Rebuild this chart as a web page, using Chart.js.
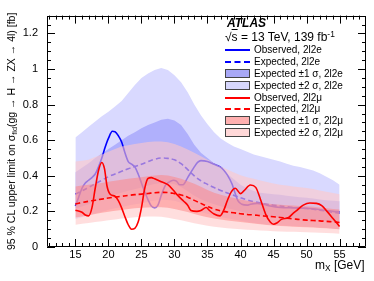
<!DOCTYPE html>
<html><head><meta charset="utf-8">
<script src="https://cdn.jsdelivr.net/npm/chart.js@4.4.1/dist/chart.umd.min.js"></script>
<style>
body{margin:0;background:#fff;}
#wrap{position:relative;width:374px;height:281px;font-family:"Liberation Sans",Arial,Helvetica,sans-serif;color:#000;overflow:hidden;}
canvas{position:absolute;left:0;top:0;}
.t{position:absolute;white-space:nowrap;line-height:1;}
.leg{position:absolute;left:254px;font-size:10px;white-space:nowrap;line-height:10px;}
.ln{position:absolute;left:225px;width:25px;height:0;}
.bx{position:absolute;left:225px;width:23px;height:7px;border:1px solid #444;}
sub{font-size:70%;vertical-align:-0.25em;}
sup{font-size:70%;vertical-align:0.45em;}
</style></head>
<body><div id="wrap"><canvas id="c" width="374" height="281"></canvas>
<div class="t" style="left:227px;top:17px;font-size:12px;font-weight:bold;font-style:italic;">ATLAS</div>
<div class="t" style="left:225px;top:30px;font-size:12px;">√<span style="text-decoration:overline">s</span> = 13 TeV, 139 fb<sup>-1</sup></div>
<div class="ln" style="top:49px;border-top:2px solid #0000ff;"></div>
<div class="leg" style="top:45px;">Observed, 2l2e</div>
<div class="ln" style="top:61px;border-top:2px dashed #0000ff;"></div>
<div class="leg" style="top:57px;">Expected, 2l2e</div>
<div class="bx" style="top:69px;background:#a8a8f6;"></div>
<div class="leg" style="top:69px;">Expected ±1 σ, 2l2e</div>
<div class="bx" style="top:81px;background:#d6d6fc;"></div>
<div class="leg" style="top:81px;">Expected ±2 σ, 2l2e</div>
<div class="ln" style="top:97px;border-top:2px solid #ff0000;"></div>
<div class="leg" style="top:93px;">Observed, 2l2μ</div>
<div class="ln" style="top:108px;border-top:2px dashed #ff0000;"></div>
<div class="leg" style="top:104px;">Expected, 2l2μ</div>
<div class="bx" style="top:116px;background:#ffb0b0;"></div>
<div class="leg" style="top:116px;">Expected ±1 σ, 2l2μ</div>
<div class="bx" style="top:128px;background:#ffd8d8;"></div>
<div class="leg" style="top:128px;">Expected ±2 σ, 2l2μ</div>
<div class="t" style="left:315px;top:259px;font-size:12px;">m<sub>X</sub> [GeV]</div>
<div class="t" id="ytitle" style="font-size:10.5px;left:6px;top:250px;transform-origin:0 0;transform:rotate(-90deg);">95 % CL upper limit on σ<sub>fid</sub>(gg → H → ZX → 4l) [fb]</div>
</div>
<script>
// ---- data ----
const mass = [15,16,17,18,19,20,21,22,23,24,25,26,27,28,29,30,31,32,33,34,35,36,37,38,39,40,41,42,43,44,45,46,47,48,49,50,51,52,53,54,55];
const eeExp   = [0.297,0.315,0.335,0.355,0.375,0.395,0.41,0.425,0.44,0.452,0.465,0.48,0.493,0.50,0.498,0.49,0.468,0.435,0.40,0.372,0.352,0.334,0.318,0.303,0.29,0.277,0.265,0.255,0.247,0.24,0.235,0.23,0.226,0.222,0.219,0.216,0.212,0.207,0.201,0.195,0.19];
const ee1Up   = [0.42,0.445,0.47,0.50,0.525,0.55,0.575,0.60,0.625,0.645,0.667,0.685,0.70,0.715,0.72,0.71,0.685,0.635,0.575,0.53,0.50,0.47,0.44,0.41,0.38,0.35,0.33,0.315,0.305,0.30,0.297,0.293,0.288,0.284,0.28,0.276,0.272,0.267,0.263,0.26,0.257];
const ee1Dn   = [0.215,0.228,0.24,0.255,0.27,0.284,0.295,0.305,0.316,0.325,0.334,0.345,0.354,0.36,0.358,0.352,0.337,0.313,0.288,0.268,0.253,0.24,0.229,0.218,0.209,0.2,0.191,0.184,0.178,0.173,0.169,0.166,0.163,0.16,0.158,0.156,0.153,0.149,0.145,0.141,0.137];
const ee2Up   = [0.615,0.645,0.675,0.705,0.735,0.76,0.79,0.82,0.865,0.91,0.95,0.975,0.995,1.005,0.995,0.965,0.925,0.87,0.80,0.74,0.69,0.645,0.61,0.585,0.565,0.55,0.535,0.52,0.51,0.50,0.49,0.48,0.468,0.457,0.45,0.44,0.43,0.415,0.395,0.375,0.35];
const ee2Dn   = [0.158,0.167,0.177,0.188,0.198,0.209,0.217,0.225,0.233,0.24,0.246,0.254,0.261,0.265,0.264,0.26,0.248,0.231,0.212,0.197,0.187,0.177,0.169,0.161,0.154,0.147,0.14,0.135,0.131,0.127,0.125,0.122,0.12,0.118,0.116,0.114,0.112,0.11,0.107,0.103,0.1];
const mmExp   = [0.242,0.25,0.257,0.263,0.269,0.275,0.28,0.285,0.29,0.294,0.297,0.301,0.305,0.307,0.306,0.30,0.292,0.28,0.262,0.245,0.228,0.213,0.203,0.197,0.192,0.187,0.183,0.18,0.176,0.173,0.17,0.166,0.162,0.158,0.154,0.151,0.149,0.147,0.144,0.141,0.138];
const mm1Up   = [0.34,0.345,0.35,0.355,0.36,0.366,0.372,0.378,0.383,0.388,0.392,0.397,0.402,0.405,0.402,0.393,0.383,0.37,0.355,0.338,0.32,0.305,0.293,0.284,0.275,0.267,0.26,0.254,0.248,0.244,0.24,0.237,0.235,0.233,0.231,0.229,0.226,0.222,0.218,0.214,0.21];
const mm1Dn   = [0.166,0.172,0.178,0.185,0.192,0.198,0.203,0.208,0.213,0.217,0.22,0.222,0.224,0.224,0.22,0.213,0.205,0.196,0.186,0.176,0.167,0.16,0.154,0.149,0.144,0.14,0.136,0.132,0.128,0.124,0.121,0.118,0.116,0.114,0.112,0.111,0.109,0.107,0.105,0.103,0.10];
const mm2Up   = [0.48,0.485,0.49,0.505,0.52,0.535,0.55,0.565,0.572,0.578,0.584,0.59,0.592,0.592,0.588,0.578,0.565,0.548,0.53,0.51,0.49,0.47,0.452,0.435,0.418,0.403,0.392,0.383,0.373,0.365,0.357,0.35,0.345,0.34,0.336,0.332,0.326,0.318,0.31,0.303,0.297];
const mm2Dn   = [0.125,0.13,0.135,0.14,0.145,0.15,0.155,0.16,0.163,0.167,0.17,0.172,0.172,0.17,0.165,0.158,0.15,0.142,0.134,0.126,0.12,0.114,0.11,0.106,0.103,0.10,0.097,0.095,0.093,0.091,0.089,0.087,0.086,0.085,0.084,0.083,0.082,0.08,0.078,0.077,0.075];

const eeObsMass = [15,15.5,16,16.5,17,17.5,18,18.5,19,19.5,20,20.6,21,21.5,22,22.5,23,23.5,24,24.5,25,25.5,26,26.5,27,27.5,28,28.6,29,29.8,30.3,30.8,31.3,32,32.5,33,33.5,34,35,36,36.9,37.5,38,38.7,39.2,39.6,40.2,41,41.5,42.5,43.5,44.5,46,48,50,51,52,53,54,55];
const eeObs     = [0.23,0.28,0.33,0.36,0.375,0.39,0.41,0.45,0.50,0.56,0.61,0.65,0.648,0.625,0.59,0.53,0.48,0.465,0.45,0.41,0.36,0.31,0.265,0.23,0.22,0.235,0.29,0.345,0.36,0.375,0.37,0.35,0.35,0.39,0.42,0.45,0.475,0.485,0.48,0.465,0.45,0.43,0.405,0.355,0.30,0.26,0.24,0.235,0.24,0.245,0.24,0.23,0.222,0.22,0.218,0.215,0.21,0.205,0.2,0.198];
const mmObsMass = [15,16,16.5,17,17.5,18,18.5,19,19.4,19.8,20.3,21,21.5,22,22.5,23,23.5,24,24.5,25,25.5,26,26.5,27,28,29,29.8,30.5,31.4,32,32.5,33.4,34,34.8,35.3,36,36.9,37.5,38,38.6,39.2,40,40.5,41.5,42.3,43,43.8,44.5,45,45.5,46.2,47.3,48,48.5,49.5,50.5,51.5,52.3,53.1,54,55];
const mmObs     = [0.207,0.195,0.18,0.175,0.22,0.33,0.43,0.475,0.44,0.34,0.295,0.285,0.26,0.22,0.17,0.125,0.10,0.105,0.14,0.22,0.33,0.385,0.39,0.383,0.367,0.35,0.32,0.29,0.257,0.235,0.205,0.2,0.205,0.222,0.205,0.185,0.175,0.21,0.26,0.31,0.33,0.30,0.315,0.348,0.335,0.27,0.185,0.14,0.128,0.135,0.155,0.166,0.19,0.205,0.235,0.247,0.245,0.232,0.2,0.16,0.115];

const xTicks = [15,20,25,30,35,40,45,50,55];
const yTicks = [0,0.2,0.4,0.6,0.8,1.0,1.2];
const yTickLabels = ['0','0.2','0.4','0.6','0.8','1','1.2'];

// ---- build ----
const pts = (xs, ys) => xs.map((x,i)=>({x:x, y:ys[i]}));
const band = (vals, color, fill, order) => ({data:pts(mass, vals), borderWidth:0, borderColor:'rgba(0,0,0,0)', backgroundColor:color, fill:fill, pointRadius:0, order:order, tension:0});
const line = (xs, ys, color, dash, order, smooth) => ({data:pts(xs, ys), borderColor:color, borderWidth:1.6, borderDash:dash, fill:false, pointRadius:0, order:order, cubicInterpolationMode: smooth?'monotone':'default', tension: smooth?0:0.4});

const datasets = [
  band(ee2Up, '#d9d9ff', '+1', 20),
  band(ee2Dn, 'rgba(0,0,0,0)', false, 19),
  band(ee1Up, '#b0b0fc', '+1', 18),
  band(ee1Dn, 'rgba(0,0,0,0)', false, 17),
  line(mass, eeExp, '#0000ff', [5,3], 16, false),
  line(eeObsMass, eeObs, '#0000ff', [], 15, true),
  band(mm2Up, 'rgba(255,200,200,0.6)', '+1', 14),
  band(mm2Dn, 'rgba(0,0,0,0)', false, 13),
  band(mm1Up, 'rgba(255,130,130,0.5)', '+1', 12),
  band(mm1Dn, 'rgba(0,0,0,0)', false, 11),
  line(mass, mmExp, '#ff0000', [5,3], 10, false),
  line(mmObsMass, mmObs, '#ff0000', [], 9, true)
];

const frameTicks = {
  id:'frameTicks',
  afterDatasetsDraw(chart){
    const {ctx, chartArea:a, scales:{x, y}} = chart;
    ctx.save();
    ctx.strokeStyle = '#000'; ctx.lineWidth = 1;
    ctx.beginPath();
    ctx.rect(Math.round(a.left)+0.5, Math.round(a.top)+0.5, Math.round(a.right-a.left)-1, Math.round(a.bottom-a.top)-1);
    for (let v = Math.ceil(x.min); v < x.max; v++) {
      const px = Math.round(x.getPixelForValue(v)) + 0.5;
      const L = (v % 5 === 0) ? 8 : 4;
      ctx.moveTo(px, a.bottom); ctx.lineTo(px, a.bottom - L);
      ctx.moveTo(px, a.top); ctx.lineTo(px, a.top + L);
    }
    for (let k = 0; k * 0.05 <= y.max + 1e-9; k++) {
      const py = Math.round(y.getPixelForValue(k * 0.05)) + 0.5;
      const L = (k % 4 === 0) ? 8 : 4;
      ctx.moveTo(a.left, py); ctx.lineTo(a.left + L, py);
      ctx.moveTo(a.right, py); ctx.lineTo(a.right - L, py);
    }
    ctx.stroke();
    ctx.restore();
  }
};

new Chart(document.getElementById('c'), {
  type:'line',
  data:{datasets},
  options:{
    responsive:false, animation:false, devicePixelRatio:1,
    layout:{padding:{left:0, right:8, top:8, bottom:0}},
    plugins:{legend:{display:false}, tooltip:{enabled:false}},
    scales:{
      x:{type:'linear', min:10.7, max:59,
        grid:{display:false, drawTicks:false}, border:{display:false},
        afterBuildTicks:(s)=>{ s.ticks = xTicks.map(v=>({value:v})); },
        afterFit:(s)=>{ s.height = 34; },
        ticks:{color:'#000', font:{family:'"Liberation Sans", Arial, sans-serif', size:11}, padding:1, maxRotation:0, autoSkip:false}
      },
      y:{type:'linear', min:0, max:1.3,
        grid:{display:false, drawTicks:false}, border:{display:false},
        afterBuildTicks:(s)=>{ s.ticks = yTicks.map(v=>({value:v})); },
        afterFit:(s)=>{ s.width = 47; },
        ticks:{color:'#000', font:{family:'"Liberation Sans", Arial, sans-serif', size:11}, padding:9, autoSkip:false,
          callback:(v, i)=> yTickLabels[i]}
      }
    }
  },
  plugins:[frameTicks]
});
</script>
</body></html>
